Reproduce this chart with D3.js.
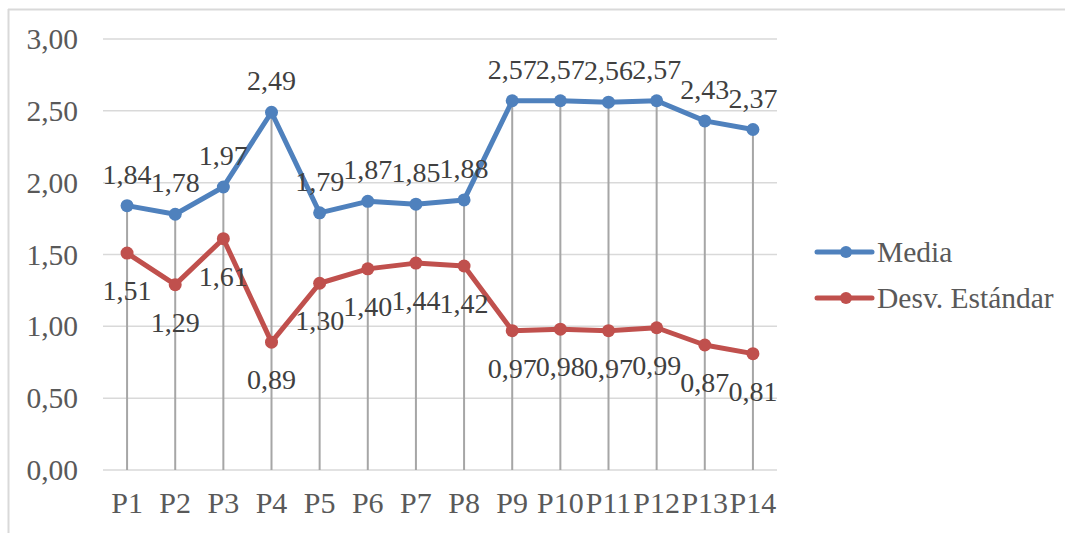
<!DOCTYPE html>
<html>
<head>
<meta charset="utf-8">
<script src="https://cdn.jsdelivr.net/npm/d3@7"></script>
<style>
  body { margin: 0; background: #fff; }
  svg text { font-family: "Liberation Serif", "Times New Roman", serif; }
</style>
</head>
<body>
<svg id="chart"></svg>
<script>
// data
var categories = ["P1","P2","P3","P4","P5","P6","P7","P8","P9","P10","P11","P12","P13","P14"];
var media = [1.84,1.78,1.97,2.49,1.79,1.87,1.85,1.88,2.57,2.57,2.56,2.57,2.43,2.37];
var desv = [1.51,1.29,1.61,0.89,1.30,1.40,1.44,1.42,0.97,0.98,0.97,0.99,0.87,0.81];
var yTicks = [0,0.5,1,1.5,2,2.5,3];
var seriesNames = ["Media","Desv. Estándar"];

var width = 1065, height = 533;
var svg = d3.select("#chart").attr("width", width).attr("height", height);

var fmt = function(v){ return d3.format(".2f")(v).replace(".", ","); };
var colors = ["#4f81bd", "#c0504d"];

// chart border (only top and left are in the picture)
svg.append("line").attr("x1", 8).attr("x2", width).attr("y1", 9.5).attr("y2", 9.5)
  .attr("stroke", "#d9d9d9").attr("stroke-width", 2);
svg.append("line").attr("x1", 8.5).attr("x2", 8.5).attr("y1", 9).attr("y2", height)
  .attr("stroke", "#d9d9d9").attr("stroke-width", 2);

var x = d3.scaleBand().domain(categories).range([103, 777]);
var y = d3.scaleLinear().domain([0, 3]).range([470, 39]);
var cx = function(d){ return x(d) + x.bandwidth()/2; };

// gridlines
svg.append("g").selectAll("line").data(yTicks).enter().append("line")
  .attr("x1", 103).attr("x2", 777)
  .attr("y1", function(d){ return y(d); }).attr("y2", function(d){ return y(d); })
  .attr("stroke", "#d9d9d9").attr("stroke-width", 1.5);

// y labels
svg.append("g").selectAll("text").data(yTicks).enter().append("text")
  .attr("x", 78).attr("y", function(d){ return y(d) + 10; })
  .attr("text-anchor", "end").attr("font-size", 29.5).attr("fill", "#595959")
  .text(fmt);

// x labels
svg.append("g").selectAll("text").data(categories).enter().append("text")
  .attr("x", cx).attr("y", 513)
  .attr("text-anchor", "middle").attr("font-size", 30).attr("fill", "#595959")
  .text(function(d){ return d; });

// drop lines
svg.append("g").selectAll("line").data(categories).enter().append("line")
  .attr("x1", cx).attr("x2", cx)
  .attr("y1", y(0))
  .attr("y2", function(d, i){ return y(Math.max(media[i], desv[i])); })
  .attr("stroke", "#a6a6a6").attr("stroke-width", 2);

var all = [media, desv];
var line = d3.line().x(function(d, i){ return cx(categories[i]); }).y(function(d){ return y(d); });

all.forEach(function(vals, s){
  var g = svg.append("g");
  g.append("path").datum(vals).attr("d", line)
    .attr("fill", "none").attr("stroke", colors[s]).attr("stroke-width", 5)
    .attr("stroke-linejoin", "round");
  g.selectAll("circle").data(vals).enter().append("circle")
    .attr("cx", function(d, i){ return cx(categories[i]); })
    .attr("cy", function(d){ return y(d); })
    .attr("r", 6.5).attr("fill", colors[s]);
  g.selectAll("text").data(vals).enter().append("text")
    .attr("x", function(d, i){ return cx(categories[i]); })
    .attr("y", function(d){ return s === 0 ? y(d) - 22 : y(d) + 47; })
    .attr("text-anchor", "middle").attr("font-size", 28).attr("fill", "#404040")
    .text(fmt);
});

// legend
var legend = svg.append("g").selectAll("g").data(seriesNames).enter().append("g")
  .attr("transform", function(d, i){ return "translate(0," + (252 + i * 46) + ")"; });
legend.append("line").attr("x1", 817).attr("x2", 872).attr("y1", 0).attr("y2", 0)
  .attr("stroke", function(d, i){ return colors[i]; }).attr("stroke-width", 5)
  .attr("stroke-linecap", "round");
legend.append("circle").attr("cx", 846).attr("cy", 0).attr("r", 6)
  .attr("fill", function(d, i){ return colors[i]; });
legend.append("text").attr("x", 877).attr("y", 10)
  .attr("font-size", 29.5).attr("fill", "#595959")
  .text(function(d){ return d; });
</script>
</body>
</html>
